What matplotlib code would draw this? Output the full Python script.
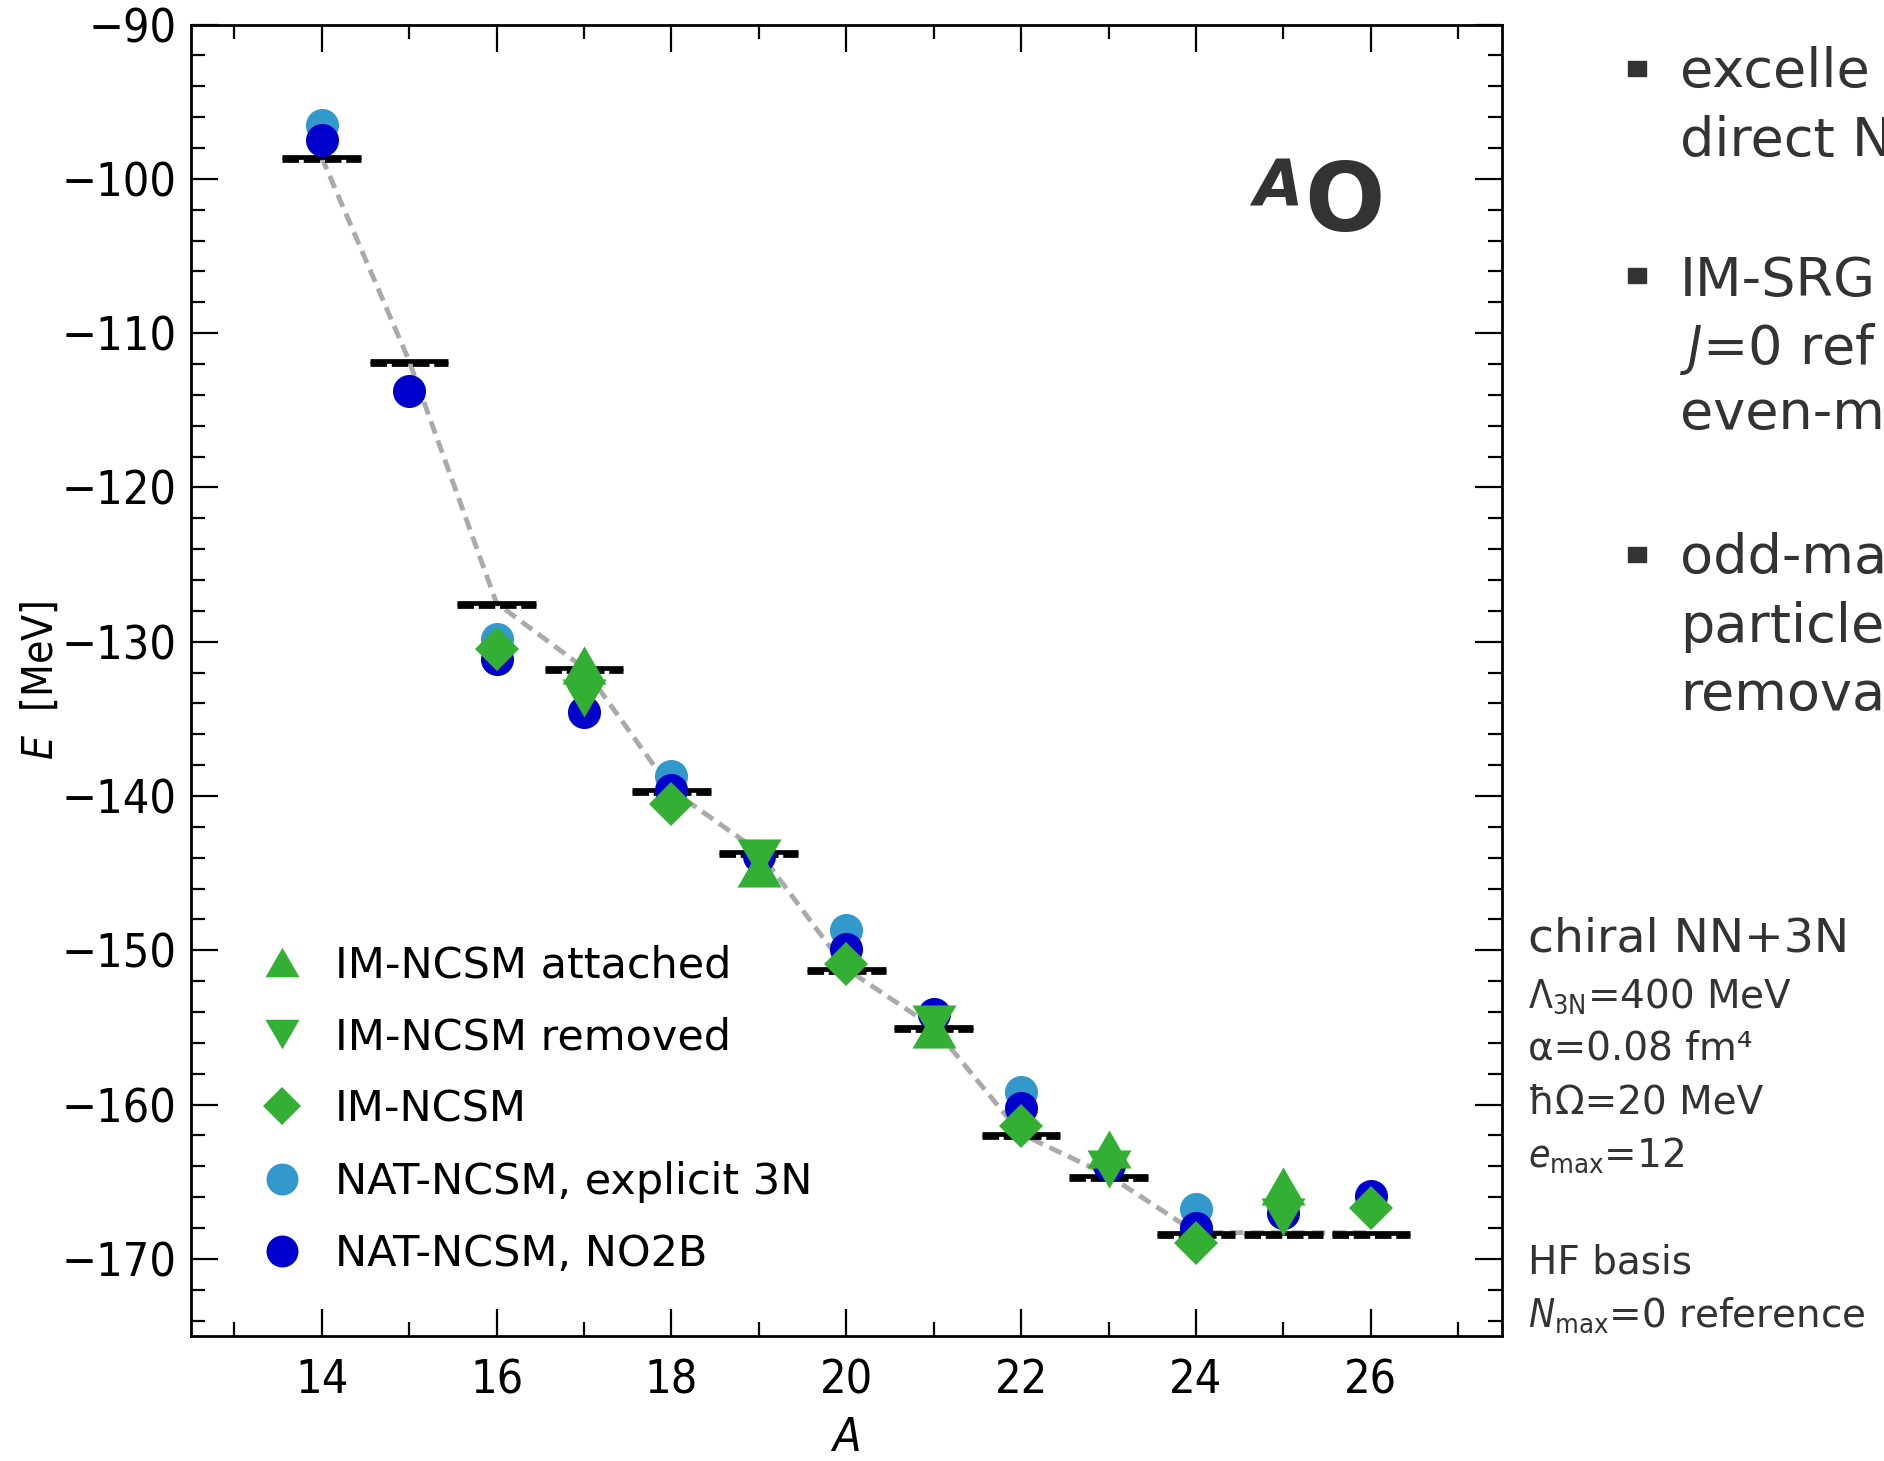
import numpy as np
import matplotlib
matplotlib.use("Agg")
import matplotlib.pyplot as plt
from matplotlib import font_manager
from matplotlib.lines import Line2D
from matplotlib.patches import Rectangle

# ground state energies of the oxygen chain (MeV)
A = [14, 15, 16, 17, 18, 19, 20, 21, 22, 23, 24, 25, 26]
E_ncsm = [-98.6, -111.8, -127.5, -131.7, -139.6, -143.6, -151.2, -155.0, -161.9, -164.6, -168.3, -168.3, -168.3]
E_ncsm2 = [-98.8, -112.0, -127.7, -131.9, -139.8, -143.8, -151.4, -155.2, -162.1, -164.8, -168.5, -168.5, -168.5]

E_no2b = [-97.5, -113.75, -131.1, -134.55, -139.6, -143.9, -149.9, -154.1, -160.2, -163.9, -168.0, -167.0, -165.9]

A_3n = [14, 16, 18, 20, 22, 24]
E_3n = [-96.5, -129.8, -138.7, -148.7, -159.2, -166.8]

A_im = [16, 18, 20, 22, 24, 26]
E_im = [-130.5, -140.5, -150.9, -161.4, -169.0, -166.7]

A_odd = [17, 19, 21, 23, 25]
E_att = [-131.5, -144.7, -155.1, -162.85, -165.3]
E_rem = [-133.65, -144.05, -154.8, -164.2, -167.3]

green = '#33b033'
lblue = '#3399cc'
dblue = '#0000cc'
tgray = '#333333'

# tick labels in the original are a narrow face
has_cond = any(f.name == 'DejaVu Sans' and str(f.stretch) in ('condensed', 'semi-condensed', '300', '400')
               for f in font_manager.fontManager.ttflist)
tick_fs = 33.5 if has_cond else 30
plt.rcParams['font.family'] = 'DejaVu Sans'
plt.rcParams['font.stretch'] = 'condensed'
plt.rcParams['mathtext.fontset'] = 'dejavusans'

W, H = 1884, 1461
fig = plt.figure(figsize=(W / 100, H / 100), dpi=100)
ax = fig.add_axes([190.5 / W, 1 - 1336 / H, (1502 - 190.5) / W, (1336 - 24.5) / H])

fx = lambda px: px / W
fy = lambda py: 1 - py / H

tri_up = [(0, 0.866), (-1, -0.866), (1, -0.866), (0, 0.866)]
tri_dn = [(0, -0.866), (-1, 0.866), (1, 0.866), (0, -0.866)]

ax.plot(A, E_ncsm, color='#aaaaaa', lw=3.5, dashes=(2.7, 1.5), zorder=1)
A_arr = np.array(A)
ax.hlines(E_ncsm2, A_arr - 0.45, A_arr + 0.45, color='black', lw=3.4, linestyles=(0, (3.5, 1.0)), zorder=2)
ax.hlines(E_ncsm, A_arr - 0.45, A_arr + 0.45, color='black', lw=3.4, zorder=2)

ax.plot(A_3n, E_3n, 'o', color=lblue, ms=23.8, mew=0, zorder=3)
ax.plot(A, E_no2b, 'o', color=dblue, ms=23.8, mew=0, zorder=3)
ax.plot(A_im, E_im, 'D', color=green, ms=22, mew=0, zorder=4)
ax.plot(A_odd, E_att, ls='none', marker=tri_up, color=green, ms=31.7, mew=0, zorder=4)
ax.plot(A_odd, E_rem, ls='none', marker=tri_dn, color=green, ms=31.7, mew=0, zorder=4)

ax.set_xlim(12.5, 27.5)
ax.set_ylim(-175, -90)
ax.set_xticks(range(14, 27, 2))
ax.set_xticks(range(13, 28), minor=True)
ax.set_yticks(range(-170, -89, 10))
ax.set_yticks(range(-174, -89, 2), minor=True)
ax.tick_params(which='both', direction='in', top=True, right=True, width=1.6, labelsize=tick_fs)
ax.tick_params(which='major', length=19.4)
ax.tick_params(which='minor', length=10)
ax.tick_params(axis='x', pad=16)
ax.tick_params(axis='y', pad=10)
for s in ax.spines.values():
    s.set_linewidth(2.0)

ax.set_ylabel(r'$E$  [MeV]', fontsize=tick_fs - 3, labelpad=0)
ax.set_xlabel('A', fontsize=tick_fs, fontstyle='italic', labelpad=9)

handles = [
    Line2D([], [], ls='none', marker=tri_up, color=green, ms=24.5, mew=0),
    Line2D([], [], ls='none', marker=tri_dn, color=green, ms=24.5, mew=0),
    Line2D([], [], ls='none', marker='D', color=green, ms=19.3, mew=0),
    Line2D([], [], ls='none', marker='o', color=lblue, ms=23, mew=0),
    Line2D([], [], ls='none', marker='o', color=dblue, ms=23, mew=0),
]
labels = ['IM-NCSM attached', 'IM-NCSM removed', 'IM-NCSM', 'NAT-NCSM, explicit 3N', 'NAT-NCSM, NO2B']
ax.legend(handles, labels, loc='upper left', bbox_to_anchor=(0.0471, 0.2987), frameon=False,
          borderpad=0, borderaxespad=0, handlelength=1.4, handletextpad=0.52, labelspacing=0.7,
          prop={'size': 31, 'stretch': 'normal'})

# nucleus label
fig.text(fx(1304), fy(231), 'O', fontsize=68, fontweight='bold', color=tgray, fontstretch='normal', va='baseline')
fig.text(fx(1253), fy(206.7), 'A', fontsize=46, fontweight='bold', fontstyle='italic', color=tgray,
         fontstretch='normal', va='baseline')

# bullets on the right, cut by the slide edge as in the original
bullet_rows = [68.5, 275, 554]
for by in bullet_rows:
    fig.patches.append(Rectangle((fx(1628), fy(by + 7.5)), 18 / W, 15 / H, transform=fig.transFigure,
                                 color=tgray, figure=fig))
bullet_lines = [(86.5, 'excelle'), (156, 'direct N'),
                (295.6, 'IM-SRG'), (364, r'$J$=0 ref'), (429, 'even-m'),
                (573, 'odd-ma'), (641.6, 'particle'), (710, 'remova')]
for by, s in bullet_lines:
    fig.text(fx(1680), fy(by), s, fontsize=39, color=tgray, fontstretch='normal', va='baseline')

# interaction / basis info
fig.text(fx(1528), fy(951.7), 'chiral NN+3N', fontsize=34, color=tgray, fontstretch='normal', va='baseline')
info = [(1008, r'$\Lambda_\mathrm{3N}$=400 MeV'), (1060, 'α=0.08 fm⁴'), (1113, 'ħΩ=20 MeV'),
        (1167, r'$e_\mathrm{max}$=12'), (1273, 'HF basis'), (1327, r'$N_\mathrm{max}$=0 reference')]
for by, s in info:
    fig.text(fx(1528), fy(by), s, fontsize=28, color=tgray, fontstretch='normal', va='baseline')

fig.savefig('out.png', dpi=100)
